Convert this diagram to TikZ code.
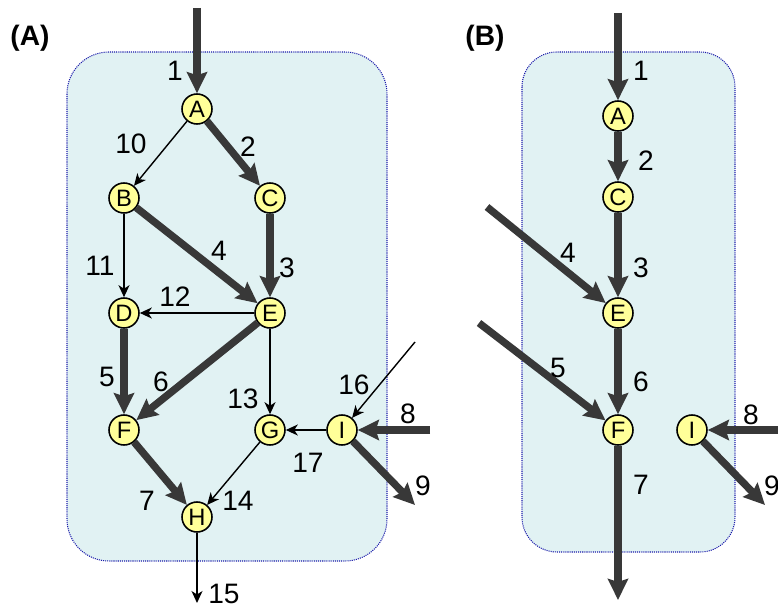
\documentclass[tikz,border=0pt]{standalone}
\usepackage{fontspec}
\setmainfont{Liberation Sans}
\usetikzlibrary{arrows.meta}

\definecolor{nodefill}{HTML}{FFFF99}
\definecolor{boxfill}{HTML}{E1F2F3}
\definecolor{boxline}{HTML}{1A1AAA}
\definecolor{flowgrey}{HTML}{383838}

\begin{document}
\begin{tikzpicture}[x=0.02cm, y=-0.02cm,
				state/.style={circle, draw=black, line width=0.9pt, fill=nodefill, inner sep=0pt, minimum size=0.6cm, font=\fontsize{13.5}{13.5}\selectfont},
				bigflow/.style={draw=flowgrey, line width=4.2pt, -{Stealth[length=0.42cm, width=0.4cm, inset=0.06cm]}},
				smallflow/.style={draw=black, line width=0.8pt, -{Stealth[length=0.24cm, width=0.22cm, inset=0.07cm]}},
				num/.style={inner sep=0pt, font=\fontsize{16}{16}\selectfont},
				panel/.style={draw=boxline, fill=boxfill, line width=0.6pt, dash pattern=on 0.6pt off 0.6pt},
				tag/.style={inner sep=0pt, font=\fontsize{16}{16}\selectfont\bfseries}
				]
	\useasboundingbox (0,0) rectangle (778,608);

	% (A) full network
	\draw[panel, rounded corners=0.84cm] (67,52) rectangle (387,561);
	\node[tag] (tagA) at (30,38) {(A)};

	\node[state] (A) at (197,109) {A};
	\node[state] (B) at (124,198) {B};
	\node[state] (C) at (270,198) {C};
	\node[state] (D) at (124,313) {D};
	\node[state] (E) at (270,313) {E};
	\node[state] (F) at (124,430) {F};
	\node[state] (G) at (270,430) {G};
	\node[state] (I) at (342,430) {I};
	\node[state] (H) at (197,517) {H};

	\coordinate (inA) at (197,8);
	\coordinate (in16) at (415,342);
	\coordinate (in8) at (430,430);
	\coordinate (out9) at (415,505);
	\coordinate (out15) at (197,603);

	\draw[bigflow] (inA) -- (A);
	\draw[bigflow] (A) -- (C);
	\draw[bigflow] (C) -- (E);
	\draw[bigflow] (B) -- (E);
	\draw[bigflow] (D) -- (F);
	\draw[bigflow] (E) -- (F);
	\draw[bigflow] (F) -- (H);
	\draw[bigflow] (in8) -- (I);
	\draw[bigflow] (I) -- (out9);
	\draw[smallflow] (A) -- (B);
	\draw[smallflow] (B) -- (D);
	\draw[smallflow] (E) -- (D);
	\draw[smallflow] (E) -- (G);
	\draw[smallflow] (G) -- (H);
	\draw[smallflow] (H) -- (out15);
	\draw[smallflow] (in16) -- (I);
	\draw[smallflow] (I) -- (G);

	\node[num] (a1) at (175,71) {1};
	\node[num] (a2) at (248,147) {2};
	\node[num] (a3) at (287,268) {3};
	\node[num] (a4) at (219,251) {4};
	\node[num] (a5) at (107,377) {5};
	\node[num] (a6) at (161,382) {6};
	\node[num] (a7) at (147,501) {7};
	\node[num] (a8) at (408,414) {8};
	\node[num] (a9) at (423,486) {9};
	\node[num] (a10) at (131,144) {10};
	\node[num] (a11) at (100,266) {11};
	\node[num] (a12) at (175,297) {12};
	\node[num] (a13) at (243,399) {13};
	\node[num] (a14) at (238,501) {14};
	\node[num] (a15) at (224,594) {15};
	\node[num] (a16) at (354,385) {16};
	\node[num] (a17) at (308,463) {17};

	% (B) reduced network
	\draw[panel, rounded corners=0.7cm] (522,52) rectangle (735,552);
	\node[tag] (tagB) at (485,38) {(B)};

	\node[state] (bA) at (618,116) {A};
	\node[state] (bC) at (618,197) {C};
	\node[state] (bE) at (618,313) {E};
	\node[state] (bF) at (618,430) {F};
	\node[state] (bI) at (692,430) {I};

	\coordinate (binA) at (618,13);
	\coordinate (bin4) at (487,207);
	\coordinate (bin5) at (479,323);
	\coordinate (bout7) at (618,600);
	\coordinate (bin8) at (782,430);
	\coordinate (bout9) at (765,505);

	\draw[bigflow] (binA) -- (bA);
	\draw[bigflow] (bA) -- (bC);
	\draw[bigflow] (bC) -- (bE);
	\draw[bigflow] (bin4) -- (bE);
	\draw[bigflow] (bE) -- (bF);
	\draw[bigflow] (bin5) -- (bF);
	\draw[bigflow] (bF) -- (bout7);
	\draw[bigflow] (bin8) -- (bI);
	\draw[bigflow] (bI) -- (bout9);

	\node[num] (b1) at (641,71) {1};
	\node[num] (b2) at (646,161) {2};
	\node[num] (b3) at (641,268) {3};
	\node[num] (b4) at (568,253) {4};
	\node[num] (b5) at (558,368) {5};
	\node[num] (b6) at (641,382) {6};
	\node[num] (b7) at (641,485) {7};
	\node[num] (b8) at (751,415) {8};
	\node[num] (b9) at (772,486) {9};
\end{tikzpicture}
\end{document}
